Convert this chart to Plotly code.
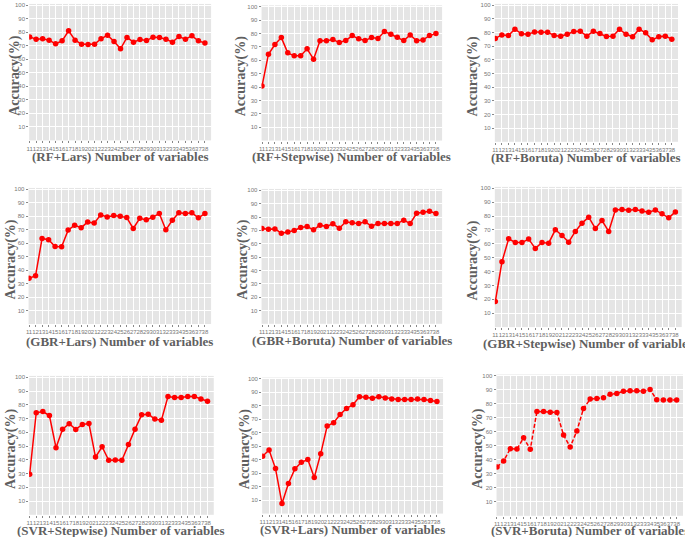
import plotly.graph_objects as go

W, H = 685, 537

n_vars = list(range(11, 39))
tick_labels = [str(v) for v in n_vars]

rf_lars = [76.6, 74.9, 75.2, 74.2, 71.5, 73.7, 81.1, 74.2, 71.2, 71.0, 71.2, 75.2, 77.9, 73.2,
           67.8, 76.2, 72.7, 74.7, 73.9, 76.4, 76.2, 74.9, 72.7, 76.9, 74.9, 77.4, 73.7, 72.0]
rf_stepwise = [40.7, 64.5, 71.7, 76.9, 65.5, 63.3, 63.3, 68.5, 60.8, 74.5, 74.5, 75.5, 73.2, 74.7,
               78.4, 76.0, 74.7, 76.9, 76.2, 81.4, 79.4, 77.2, 74.7, 78.9, 74.5, 75.2, 78.4, 79.9]
rf_boruta = [75.7, 78.3, 77.9, 82.5, 79.1, 78.8, 80.5, 80.3, 80.3, 77.9, 77.4, 78.8, 80.8, 81.0,
             77.4, 81.0, 79.3, 77.1, 77.4, 82.5, 78.8, 76.9, 82.5, 79.8, 74.7, 76.9, 77.4, 75.2]
gbr_lars = [33.9, 35.9, 63.5, 62.5, 57.6, 57.3, 69.7, 73.4, 71.4, 75.8, 74.9, 81.0, 79.5, 80.5,
            80.0, 79.0, 70.9, 78.5, 77.3, 79.3, 82.0, 69.9, 77.0, 82.5, 82.0, 82.5, 78.8, 82.0]
gbr_boruta = [71.4, 70.9, 71.1, 67.9, 68.7, 69.9, 72.1, 72.9, 70.4, 73.9, 72.9, 74.9, 71.6, 76.4,
              75.6, 75.1, 76.4, 73.1, 75.1, 75.1, 75.1, 75.1, 77.6, 75.1, 82.8, 83.6, 84.3, 82.6]
gbr_stepwise = [18.4, 47.1, 63.6, 61.0, 61.0, 63.4, 56.7, 61.0, 60.5, 70.1, 66.0, 61.2, 68.9, 74.9,
                79.2, 71.1, 76.8, 68.9, 84.4, 84.7, 84.2, 84.7, 83.7, 82.8, 84.4, 81.6, 78.7, 83.0]
svr_stepwise = [29.5, 74.2, 75.1, 72.2, 48.8, 62.3, 66.2, 62.1, 65.7, 66.4, 42.0, 49.5, 39.6, 39.9,
                39.6, 51.2, 62.3, 72.7, 73.2, 69.6, 68.8, 86.0, 85.3, 85.3, 86.0, 86.0, 84.3, 82.6]
svr_lars = [42.6, 47.2, 33.4, 7.5, 22.3, 33.2, 38.1, 40.1, 26.8, 44.5, 65.0, 67.5, 73.6, 78.1,
            80.8, 86.7, 86.4, 85.7, 86.7, 85.9, 85.0, 84.7, 84.7, 84.7, 85.0, 84.7, 84.0, 83.2]
svr_boruta = [34.9, 39.2, 48.0, 47.7, 55.8, 47.5, 74.6, 74.6, 74.1, 73.9, 57.7, 49.2, 60.6, 76.7,
              83.4, 83.8, 84.3, 86.9, 87.4, 89.1, 89.3, 89.3, 89.1, 90.3, 82.9, 82.7, 82.7, 82.7]

titles = ["(RF+Lars) Number of variables", "(RF+Stepwise) Number of variables",
          "(RF+Boruta) Number of variables", "(GBR+Lars) Number of variables",
          "(GBR+Boruta) Number of variables", "(GBR+Stepwise) Number of variables",
          "(SVR+Stepwise) Number of variables", "(SVR+Lars) Number of variables",
          "(SVR+Boruta) Number of variables"]
series = [rf_lars, rf_stepwise, rf_boruta, gbr_lars, gbr_boruta, gbr_stepwise,
          svr_stepwise, svr_lars, svr_boruta]
dashes = ["solid"] * 8 + ["4px,2px"]
y_ticks = [10, 20, 30, 40, 50, 60, 70, 80, 90, 100]

# panel boxes in pixels: left, right, y of 100, y of 0, y-title x, x-title y
boxes = [
    (26.3, 209.0, 3.3, 138.9, 12.0, 155.5),
    (259.7, 441.0, 4.7, 139.1, 238.7, 155.5),
    (494.0, 678.0, 3.3, 140.3, 472.0, 156.5),
    (25.7, 209.0, 188.0, 323.2, 8.0, 340.5),
    (259.7, 441.0, 189.0, 323.0, 240.7, 340.2),
    (494.0, 681.7, 187.0, 326.3, 472.0, 342.5),
    (26.3, 211.7, 376.7, 514.7, 8.0, 530.0),
    (260.3, 442.0, 378.3, 513.5, 243.0, 529.0),
    (495.7, 683.0, 375.3, 515.7, 477.0, 530.5),
]

fig = go.Figure()
annotations = []
gray_txt = "#5f5f5f"
for i, (vals, title, dash, box) in enumerate(zip(series, titles, dashes, boxes)):
    k = "" if i == 0 else str(i + 1)
    left, right, y100, y0, ytx, xty = box
    unit = (y0 - y100) / 100.0
    top = y100 - 1.0 * unit
    fig.add_trace(go.Scatter(
        x=n_vars, y=vals, mode="lines+markers",
        line=dict(color="#ff0000", width=1.5, dash=dash),
        marker=dict(color="#ff0000", size=5.5, symbol="circle"),
        xaxis="x" + k, yaxis="y" + k, showlegend=False,
    ))
    fig.layout["xaxis" + k] = dict(
        domain=[left / W, right / W], anchor="y" + k,
        range=[10.93, 38.95], tickmode="array", tickvals=n_vars, ticktext=tick_labels,
        tickangle=0, tickfont=dict(family="Liberation Sans", size=6, color="#777777"),
        ticks="outside", ticklen=2, tickcolor="#888888",
        showgrid=True, gridcolor="#ffffff", gridwidth=1, zeroline=False, showline=False,
    )
    fig.layout["yaxis" + k] = dict(
        domain=[1 - y0 / H, 1 - top / H], anchor="x" + k,
        range=[0, 101], tickmode="array", tickvals=y_ticks,
        tickfont=dict(family="Liberation Sans", size=6, color="#777777"),
        ticks="outside", ticklen=2, tickcolor="#888888",
        showgrid=True, gridcolor="#ffffff", gridwidth=1.2, zeroline=False, showline=False,
    )
    annotations.append(dict(
        text="<b>" + title + "</b>", x=(left + right) / 2 / W, y=1 - xty / H,
        xref="paper", yref="paper", xanchor="center", yanchor="middle", showarrow=False,
        font=dict(family="Liberation Serif", size=13, color=gray_txt),
    ))
    annotations.append(dict(
        text="<b>Accuracy(%)</b>", x=ytx / W, y=1 - ((y100 + y0) / 2 + 3) / H,
        xref="paper", yref="paper", xanchor="center", yanchor="middle", showarrow=False,
        textangle=-90, font=dict(family="Liberation Serif", size=14, color=gray_txt),
    ))

fig.update_layout(
    width=W, height=H, margin=dict(l=0, r=0, t=0, b=0),
    paper_bgcolor="#ffffff", plot_bgcolor="#e5e5e5",
    annotations=annotations,
)
fig.write_html("out.html", config={"displayModeBar": False},
               post_script="document.body.style.margin='0';")
